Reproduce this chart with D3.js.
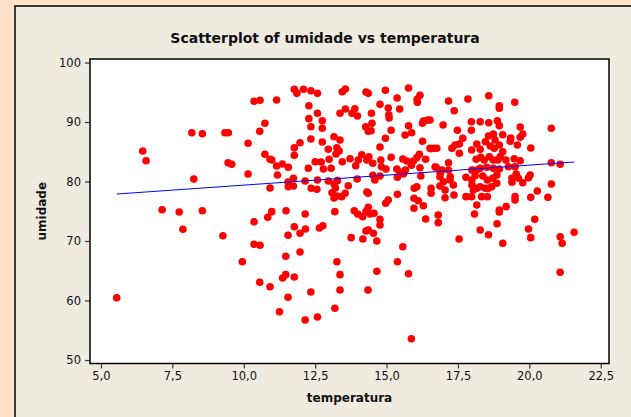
<!DOCTYPE html>
<html>
<head>
<meta charset="utf-8">
<script src="https://cdn.jsdelivr.net/npm/d3@7"></script>
<style>
body { margin: 0; }
svg { display: block; font-family: "DejaVu Sans", sans-serif; }
</style>
</head>
<body>
<div id="chart"></div>
<script>
var pontos = [
  [5.55,60.47],[6.46,85.13],[6.58,83.5],[7.14,75.26],[7.74,74.87],[7.87,71.97],[8.25,80.42],[8.18,88.2],[8.55,88.03],[8.55,75.09],
  [9.27,70.89],[9.34,88.2],[9.46,88.2],[9.45,83.16],[9.58,82.89],[9.95,66.52],[10.15,86.42],[10.15,81.26],[10.36,93.48],[10.57,93.65],
  [10.36,73.24],[10.36,69.45],[10.57,69.28],[10.56,63.06],[10.56,88.44],[10.74,89.78],[10.74,84.57],[10.84,73.98],[10.92,62.32],[10.92,83.73],
  [10.92,78.91],
  [11.15,93.7],[11.77,95.5],[11.86,94.82],[12.09,95.5],[12.35,95.26],[12.58,94.82],[13.45,95.09],[13.56,95.55],[14.28,95.04],[14.36,94.82],
  [14.96,95.33],[15.77,95.72],[16.17,94.49],[16.07,93.82],[16.08,93.31],[15.37,94.03],[12.28,92.74],[12.58,91.46],[12.28,90.56],[12.75,90.22],
  [12.35,89.21],[12.75,88.94],[13.37,91.46],[13.56,92.19],[13.79,91.46],[13.89,92.24],[13.98,91.01],[14.47,91.46],[14.77,92.97],[15.06,92.35],
  [15.08,91.23],[15.09,90.67],[15.46,92.19],[14.49,89.78],[14.27,89.21],[14.36,88.44],[14.46,88.54],[15.16,88.61],[14.96,87.26],[15.77,89.38],
  [15.65,87.82],[15.88,88.2],[16.26,89.78],[16.44,90.34],[16.29,90.17],[16.26,86.76],[13.16,87.53],[13.37,86.97],[12.75,86.64],[12.35,87.14],
  [11.97,86.52],[11.77,85.68],[11.77,84.4],[12.96,85.41],[13.26,85.68],[13.34,85.13],[13.23,84.62],[14.77,85.8],[10.98,83.61],[11.15,82.61],
  [11.35,82.94],[11.56,82.39],[11.18,81.09],[12.26,82.22],[12.5,83.33],[12.71,83.28],[12.79,82.1],[12.99,83.73],[13.06,82.22],[13.45,83.33],
  [13.72,83.83],[13.92,82.66],[14.01,83.61],[14.13,84.5],[14.31,83.61],[14.38,84.17],[14.52,83.06],[14.8,83.61],[14.82,82.49],[14.98,82.1],
  [15.16,84.07],[15.57,83.78],[15.71,83.45],[15.87,82.72],[15.94,83.45],[16.06,84.0],[16.15,84.57],[16.37,83.73],[16.55,85.51],[16.76,85.58],
  [15.36,82.1],[15.46,81.6],[15.59,81.26],[15.66,81.93],[16.17,82.32],[16.2,80.92],[16.7,82.44],[16.88,81.38],[14.52,81.04],[14.59,80.25],
  [14.77,80.92],[15.38,80.71],[13.97,80.42],[11.74,80.54],[11.55,79.92],[11.56,79.13],[11.74,79.24],[12.15,80.08],[12.58,80.25],[12.96,80.08],
  [13.16,79.63],[13.28,80.14],[13.21,78.91],[13.09,78.12],[13.26,77.56],[13.16,77.23],[12.36,78.86],[12.56,78.69],[13.66,79.29],[13.55,78.02],
  [13.43,77.45],[14.31,78.24],[14.36,78.02],[15.38,77.85],[15.97,78.86],[16.06,79.13],[16.56,78.86],[16.56,78.02],[15.96,77.18],[16.11,76.77],
  [16.29,75.93],[14.97,76.34],[15.06,76.89],
  [18.58,94.42],[17.85,93.87],[17.17,93.53],[18.95,92.74],[18.95,92.3],[19.49,93.31],[17.37,91.9],[16.52,90.34],[16.98,89.5],[17.97,90.05],
  [18.28,90.05],[18.58,89.88],[18.88,90.22],[18.95,89.38],[17.97,88.61],[17.48,88.61],[19.68,89.16],[20.77,88.94],[17.67,87.26],[17.4,86.13],
  [17.29,85.58],[17.55,86.3],[17.55,84.74],[16.52,85.58],[16.66,85.58],[18.16,86.3],[17.98,85.29],[18.28,85.41],[18.46,86.69],[18.57,87.65],
  [18.74,87.98],[18.8,86.97],[18.63,85.96],[18.77,85.58],[18.95,86.13],[19.07,87.87],[19.07,85.01],[19.35,87.31],[19.33,86.76],[19.58,86.13],
  [19.68,87.43],[19.77,87.98],[20.05,85.63],[18.14,83.73],[18.3,84.07],[18.42,83.61],[18.6,84.17],[18.74,83.61],[18.9,83.61],[18.98,84.17],
  [19.18,83.61],[19.47,83.83],[19.68,83.5],[17.17,83.16],[16.74,82.39],[16.94,81.93],[17.17,81.93],[17.23,80.81],[17.99,81.93],[18.16,81.93],
  [18.28,82.22],[18.51,82.39],[18.74,82.22],[18.95,82.1],[19.27,82.49],[19.5,82.49],[20.77,83.16],[21.08,82.89],[20.03,81.09],[19.97,80.64],
  [16.87,80.81],[16.99,79.97],[17.22,80.25],[17.34,79.41],[16.87,79.24],[17.78,80.71],[17.99,80.25],[18.1,80.98],[18.37,80.92],[18.53,80.25],
  [18.72,80.54],[18.86,79.7],[18.68,79.13],[18.86,81.09],[19.39,80.54],[19.39,79.87],[19.54,81.26],[19.62,80.54],[19.77,79.8],[20.77,79.58],
  [20.28,78.4],[17.99,79.41],[18.04,78.57],[18.16,78.86],[18.28,79.13],[18.46,78.86],[18.57,78.86],[17.05,78.57],[17.05,77.28],[17.36,77.73],
  [17.78,77.45],[17.98,77.45],[18.16,76.05],[18.33,77.45],[18.53,77.45],[19.5,77.45],[19.5,76.89],[20.05,77.34],[20.65,77.34],[19.19,75.77],
  [18.95,75.21],
  [10.98,74.93],[11.48,75.09],[12.15,74.54],[13.19,74.93],[13.87,75.09],[13.99,74.54],[14.16,74.09],[14.28,74.93],[14.36,75.66],[14.42,74.54],
  [14.56,74.66],[14.77,73.65],[14.77,72.69],[15.96,75.5],[16.37,73.7],[16.81,74.37],[16.81,73.08],[11.77,72.4],[11.55,70.96],[11.97,71.29],
  [12.16,72.02],[12.65,72.19],[12.77,72.57],[13.76,70.56],[14.17,70.34],[14.28,71.68],[14.36,71.85],[14.54,71.29],[14.66,70.0],[15.57,69.04],
  [15.38,66.52],[15.77,64.5],[11.47,67.43],[11.97,68.15],[13.26,66.52],[13.37,64.34],[13.37,61.76],[14.66,64.91],[14.35,61.76],[11.36,63.78],
  [11.47,64.34],[11.77,63.95],[11.55,60.54],[12.35,61.43],[11.25,58.12],[12.15,56.72],[12.58,57.23],[13.19,58.69],[15.87,53.58],
  [18.08,74.54],[18.95,74.87],[18.87,72.91],[20.19,73.65],[19.97,72.02],[20.05,70.56],[18.28,71.85],[18.57,71.06],[17.54,70.34],[19.07,69.61],
  [21.08,70.72],[21.15,69.61],[21.57,71.46],[21.08,64.74]
];

var xTicks = [5, 7.5, 10, 12.5, 15, 17.5, 20, 22.5];
var yTicks = [50, 60, 70, 80, 90, 100];

// fitted line umidade = a + b * temperatura
var fitA = 76.03, fitB = 0.336;

var W = 631, H = 417;
var margin = {top: 59, right: 22, bottom: 53.5, left: 90},
    width = W - margin.left - margin.right,
    height = H - margin.top - margin.bottom;

var svg = d3.select("#chart")
  .append("svg")
  .attr("width", W)
  .attr("height", H);

// outer background + graph region
svg.append("rect")
  .attr("width", W).attr("height", H)
  .attr("fill", "#fde0ca");
svg.append("rect")
  .attr("x", 15).attr("y", 6)
  .attr("width", W).attr("height", H)
  .attr("fill", "#efebe1")
  .attr("stroke", "#000")
  .attr("stroke-width", 1.5);

var g = svg.append("g")
  .attr("transform", "translate(" + margin.left + "," + margin.top + ")");

var x = d3.scaleLinear()
  .domain([4.615, 22.79])
  .range([0, width]);

var y = d3.scaleLinear()
  .domain([49.41, 100.59])
  .range([height, 0]);

// data region
g.append("rect")
  .attr("width", width)
  .attr("height", height)
  .attr("fill", "#fff");

var fmt = function(d) { return d3.format(".1f")(d).replace(".", ","); };

var xAxis = g.append("g")
  .attr("transform", "translate(0," + height + ")")
  .call(d3.axisBottom(x).tickValues(xTicks).tickSize(5).tickPadding(3).tickFormat(fmt));

var yAxis = g.append("g")
  .call(d3.axisLeft(y).tickValues(yTicks).tickSize(5).tickPadding(4));

[xAxis, yAxis].forEach(function(a) {
  a.select(".domain").remove();
  a.selectAll(".tick line").attr("stroke", "#333").attr("stroke-width", 1.2);
  a.selectAll(".tick text")
    .attr("fill", "#111")
    .style("font-family", "DejaVu Sans, sans-serif")
    .style("font-size", "11.5px");
});

// points
g.append("g")
  .selectAll("circle")
  .data(pontos)
  .enter()
  .append("circle")
  .attr("cx", function(d) { return x(d[0]); })
  .attr("cy", function(d) { return y(d[1]); })
  .attr("r", 3.8)
  .attr("fill", "#ff0000");

// regression line
var tExt = d3.extent(pontos, function(d) { return d[0]; });
g.append("line")
  .attr("x1", x(tExt[0]))
  .attr("y1", y(fitA + fitB * tExt[0]))
  .attr("x2", x(tExt[1]))
  .attr("y2", y(fitA + fitB * tExt[1]))
  .attr("stroke", "#0000ff")
  .attr("stroke-width", 1);

// frame
g.append("rect")
  .attr("width", width)
  .attr("height", height)
  .attr("fill", "none")
  .attr("stroke", "#000")
  .attr("stroke-width", 1.5);

// titles
svg.append("text")
  .attr("x", 325)
  .attr("y", 43)
  .attr("text-anchor", "middle")
  .style("font-size", "14px")
  .style("font-weight", "bold")
  .attr("fill", "#111")
  .text("Scatterplot of umidade vs temperatura");

svg.append("text")
  .attr("x", margin.left + width / 2)
  .attr("y", 402)
  .attr("text-anchor", "middle")
  .style("font-size", "12px")
  .style("font-weight", "bold")
  .attr("fill", "#111")
  .text("temperatura");

svg.append("text")
  .attr("transform", "translate(46," + (margin.top + height / 2) + ") rotate(-90)")
  .attr("text-anchor", "middle")
  .style("font-size", "12px")
  .style("font-weight", "bold")
  .attr("fill", "#111")
  .text("umidade");
</script>
</body>
</html>
